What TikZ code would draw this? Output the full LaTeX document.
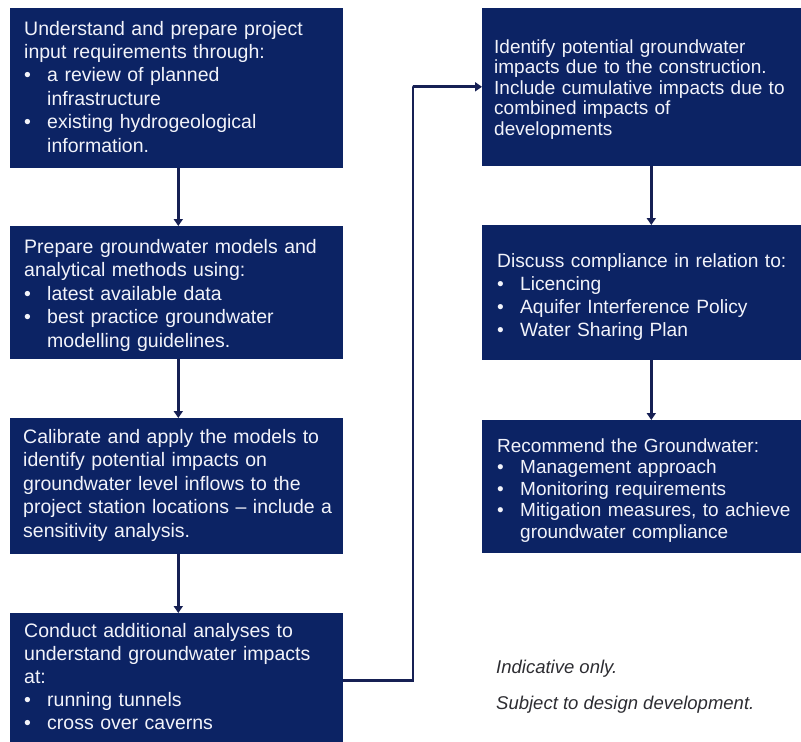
\documentclass[tikz,border=0pt]{standalone}
\usepackage{fontspec}
\setmainfont{Liberation Sans}
\usetikzlibrary{arrows.meta,calc}

\definecolor{navy}{RGB}{12,35,100}
\definecolor{navyline}{RGB}{22,32,84}
\definecolor{boxtext}{RGB}{242,243,250}
\definecolor{notegrey}{RGB}{45,45,50}

% bullet item and its continuation line, both with a hanging indent
\newcommand{\bitem}[1]{\makebox[23pt][l]{\textbullet}#1}
\newcommand{\bcont}[1]{\hspace*{23pt}#1}

\tikzset{
  panel/.style={fill=navy, draw=navy, line width=0.6pt, inner sep=0pt, anchor=north west},
  paneltext/.style 2 args={text=boxtext, anchor=base west, inner sep=0pt, align=left,
    text width=360pt, font=\fontsize{#1}{#2}\selectfont},
  flow/.style={draw=navyline, line width=2.6pt,
    -{Triangle[length=7pt,width=9pt]}},
  link/.style={draw=navyline, line width=2.8pt,
    -{Triangle[length=7pt,width=9pt]}},
  note/.style={text=notegrey, anchor=base west, inner sep=0pt,
    font=\fontsize{18.5}{22}\selectfont\itshape}
}

\begin{document}
\begin{tikzpicture}[x=1pt,y=-1pt]
  \useasboundingbox[fill=white] (0,0) rectangle (801,742);

  % left column
  \node[panel, minimum width=332pt, minimum height=159pt] (b1) at (10,8) {};
  \node[panel, minimum width=332pt, minimum height=132pt] (b2) at (10,226) {};
  \node[panel, minimum width=332pt, minimum height=135pt] (b3) at (10,418) {};
  \node[panel, minimum width=332pt, minimum height=134pt] (b4) at (10,613) {};

  % right column
  \node[panel, minimum width=321pt, minimum height=157pt] (b5) at (482,8) {};
  \node[panel, minimum width=321pt, minimum height=134pt] (b6) at (482,225) {};
  \node[panel, minimum width=321pt, minimum height=132pt] (b7) at (482,420) {};

  % panel texts
  \node[paneltext={19.5}{23.4}] (t1) at (24,35) {Understand and prepare project\\
    input requirements through:\\
    \bitem{a review of planned}\\
    \bcont{infrastructure}\\
    \bitem{existing hydrogeological}\\
    \bcont{information.}};
  \node[paneltext={19.5}{23.5}] (t2) at (24,253) {Prepare groundwater models and\\
    analytical methods using:\\
    \bitem{latest available data}\\
    \bitem{best practice groundwater}\\
    \bcont{modelling guidelines.}};
  \node[paneltext={19.5}{23.5}] (t3) at (23,443) {Calibrate and apply the models to\\
    identify potential impacts on\\
    groundwater level inflows to the\\
    project station locations -- include a\\
    sensitivity analysis.};
  \node[paneltext={19.5}{23}] (t4) at (24,637) {Conduct additional analyses to\\
    understand groundwater impacts\\
    at:\\
    \bitem{running tunnels}\\
    \bitem{cross over caverns}};
  \node[paneltext={19}{20.5}] (t5) at (494,53) {Identify potential groundwater\\
    impacts due to the construction.\\
    Include cumulative impacts due to\\
    combined impacts of\\
    developments};
  \node[paneltext={19.2}{23.3}] (t6) at (497,267) {Discuss compliance in relation to:\\
    \bitem{Licencing}\\
    \bitem{Aquifer Interference Policy}\\
    \bitem{Water Sharing Plan}};
  \node[paneltext={19}{21.5}] (t7) at (497,452) {Recommend the Groundwater:\\
    \bitem{Management approach}\\
    \bitem{Monitoring requirements}\\
    \bitem{Mitigation measures, to achieve}\\
    \bcont{groundwater compliance}};

  % flow arrows
  \draw[flow] ([xshift=2pt]b1.south) -- ([xshift=2pt]b2.north);
  \draw[flow] ([xshift=2pt]b2.south) -- ([xshift=2pt]b3.north);
  \draw[flow] ([xshift=2pt]b3.south) -- ([xshift=2pt]b4.north);
  \draw[flow] ([xshift=8.5pt]b5.south) -- ([xshift=8.5pt]b6.north);
  \draw[flow] ([xshift=8.5pt]b6.south) -- ([xshift=8.5pt]b7.north);

  % link from the last left panel to the first right panel
  \coordinate (bend) at (413,86.5);
  \draw[link] (b4.east) -| (bend) |- (b5.west);

  % notes
  \node[note] (n1) at (496,673) {Indicative only.};
  \node[note] (n2) at (496,709) {Subject to design development.};
\end{tikzpicture}
\end{document}
